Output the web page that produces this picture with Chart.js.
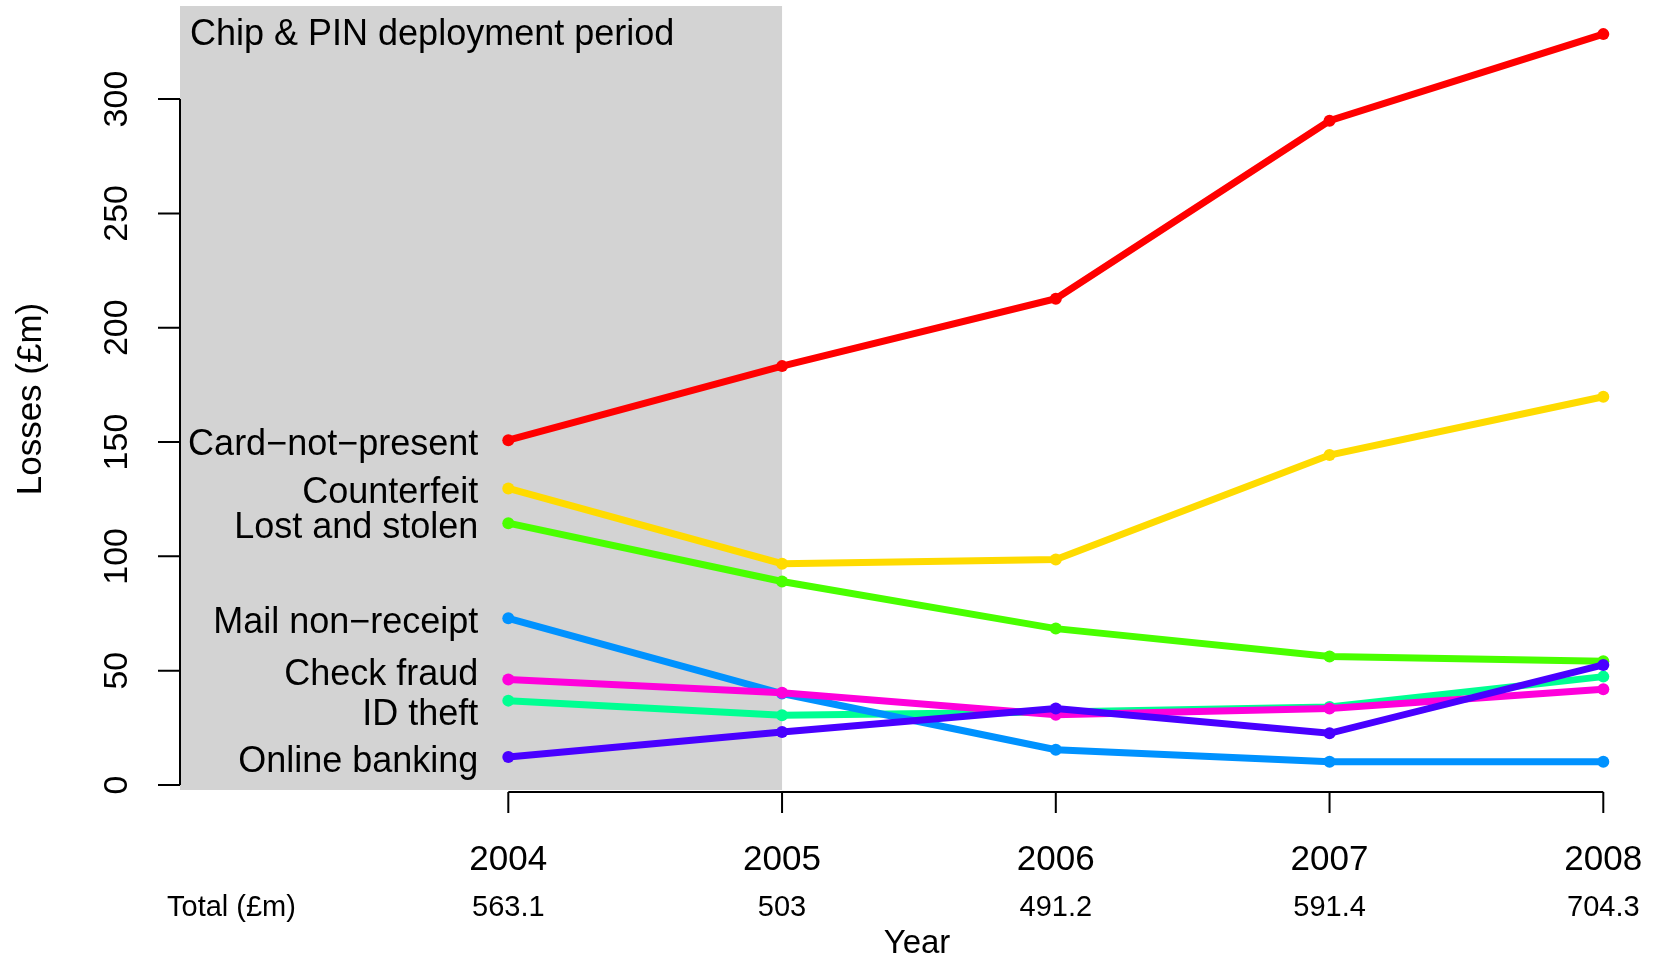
<!DOCTYPE html>
<html>
<head>
<meta charset="utf-8">
<title>Card fraud losses</title>
<script src="https://cdn.jsdelivr.net/npm/chart.js@4.4.0/dist/chart.umd.min.js"></script>
<style>
  html, body { margin: 0; padding: 0; background: #fff; }
  canvas { display: block; }
</style>
</head>
<body>
<canvas id="chart" width="1655" height="960"></canvas>
<script>
const years = [2004, 2005, 2006, 2007, 2008];
const totals = ['563.1', '503', '491.2', '591.4', '704.3'];
const yTicks = [0, 50, 100, 150, 200, 250, 300];

// losses in £m
const cardNotPresent = [150.8, 183.2, 212.7, 290.5, 328.4];
const counterfeit    = [129.7, 96.8, 98.6, 144.3, 169.8];
const lostStolen     = [114.5, 89.0, 68.4, 56.2, 54.1];
const mailNonReceipt = [72.9, 40.0, 15.4, 10.2, 10.2];
const checkFraud     = [46.1, 40.3, 30.7, 33.5, 41.9];
const idTheft        = [36.9, 30.5, 31.9, 34.1, 47.4];
const onlineBanking  = [12.2, 23.2, 33.5, 22.6, 52.5];

const FONT = '"Liberation Sans", Arial, Helvetica, sans-serif';

function series(label, values, color, order, nudge) {
  return {
    label: label,
    data: values.map((v, i) => ({ x: years[i], y: v })),
    borderColor: color,
    backgroundColor: color,
    borderWidth: 7,
    pointRadius: 6,
    pointBorderWidth: 0,
    tension: 0,
    order: order,
    labelNudge: nudge || 0
  };
}

// R-like axes, shading and text labels
const rStyle = {
  id: 'rStyle',
  beforeDatasetsDraw(chart) {
    const { ctx, chartArea: a, scales: { x, y } } = chart;
    ctx.save();

    // chip & pin deployment period
    ctx.fillStyle = '#d3d3d3';
    ctx.fillRect(a.left, a.top, x.getPixelForValue(2005) - a.left, a.bottom - 2 - a.top);

    ctx.strokeStyle = '#000';
    ctx.lineWidth = 2;
    ctx.beginPath();
    const yLo = y.getPixelForValue(yTicks[0]);
    const yHi = y.getPixelForValue(yTicks[yTicks.length - 1]);
    ctx.moveTo(a.left, yLo);
    ctx.lineTo(a.left, yHi);
    yTicks.forEach(v => {
      const py = y.getPixelForValue(v);
      ctx.moveTo(a.left, py);
      ctx.lineTo(a.left - 22, py);
    });
    const xLo = x.getPixelForValue(years[0]);
    const xHi = x.getPixelForValue(years[years.length - 1]);
    ctx.moveTo(xLo, a.bottom);
    ctx.lineTo(xHi, a.bottom);
    years.forEach(v => {
      const px = x.getPixelForValue(v);
      ctx.moveTo(px, a.bottom);
      ctx.lineTo(px, a.bottom + 21);
    });
    ctx.stroke();

    ctx.fillStyle = '#000';
    ctx.textBaseline = 'alphabetic';

    // y tick labels, rotated like R's default
    ctx.font = '34px ' + FONT;
    ctx.textAlign = 'center';
    yTicks.forEach(v => {
      ctx.save();
      ctx.translate(127, y.getPixelForValue(v));
      ctx.rotate(-Math.PI / 2);
      ctx.fillText(String(v), 0, 0);
      ctx.restore();
    });

    ctx.save();
    ctx.font = '35px ' + FONT;
    ctx.translate(41, (a.top + a.bottom) / 2);
    ctx.rotate(-Math.PI / 2);
    ctx.fillText('Losses (£m)', 0, 0);
    ctx.restore();

    // x tick labels and totals
    ctx.font = '35px ' + FONT;
    years.forEach(v => ctx.fillText(String(v), x.getPixelForValue(v), 870));
    ctx.font = '29px ' + FONT;
    totals.forEach((t, i) => ctx.fillText(t, x.getPixelForValue(years[i]), 916));
    ctx.textAlign = 'left';
    ctx.fillText('Total (£m)', 167, 916);

    ctx.textAlign = 'center';
    ctx.font = '33px ' + FONT;
    ctx.fillText('Year', 917, 953);

    ctx.textAlign = 'left';
    ctx.font = '36px ' + FONT;
    ctx.fillText('Chip & PIN deployment period', 190, 45);

    // series names next to the 2004 points
    ctx.textAlign = 'right';
    chart.data.datasets.forEach(ds => {
      const py = y.getPixelForValue(ds.data[0].y + ds.labelNudge);
      ctx.fillText(ds.label, xLo - 30, py + 15);
    });

    ctx.restore();
  }
};

new Chart(document.getElementById('chart'), {
  type: 'line',
  data: {
    datasets: [
      series('Card\u2212not\u2212present', cardNotPresent, '#FF0000', 7),
      series('Counterfeit', counterfeit, '#FFDB00', 6),
      series('Lost and stolen', lostStolen, '#49FF00', 5),
      series('Mail non\u2212receipt', mailNonReceipt, '#0092FF', 3),
      series('Check fraud', checkFraud, '#FF00DB', 2, 4.0),
      series('ID theft', idTheft, '#00FF92', 4, -4.3),
      series('Online banking', onlineBanking, '#4900FF', 1)
    ]
  },
  options: {
    responsive: false,
    animation: false,
    devicePixelRatio: 1,
    layout: { padding: { left: 180, top: 6, right: 11, bottom: 168 } },
    plugins: {
      legend: { display: false },
      tooltip: { enabled: false }
    },
    scales: {
      x: { type: 'linear', min: 2002.8007, max: 2008.1487, display: false },
      y: { type: 'linear', min: -3.06, max: 340.7, display: false }
    }
  },
  plugins: [rStyle]
});
</script>
</body>
</html>
